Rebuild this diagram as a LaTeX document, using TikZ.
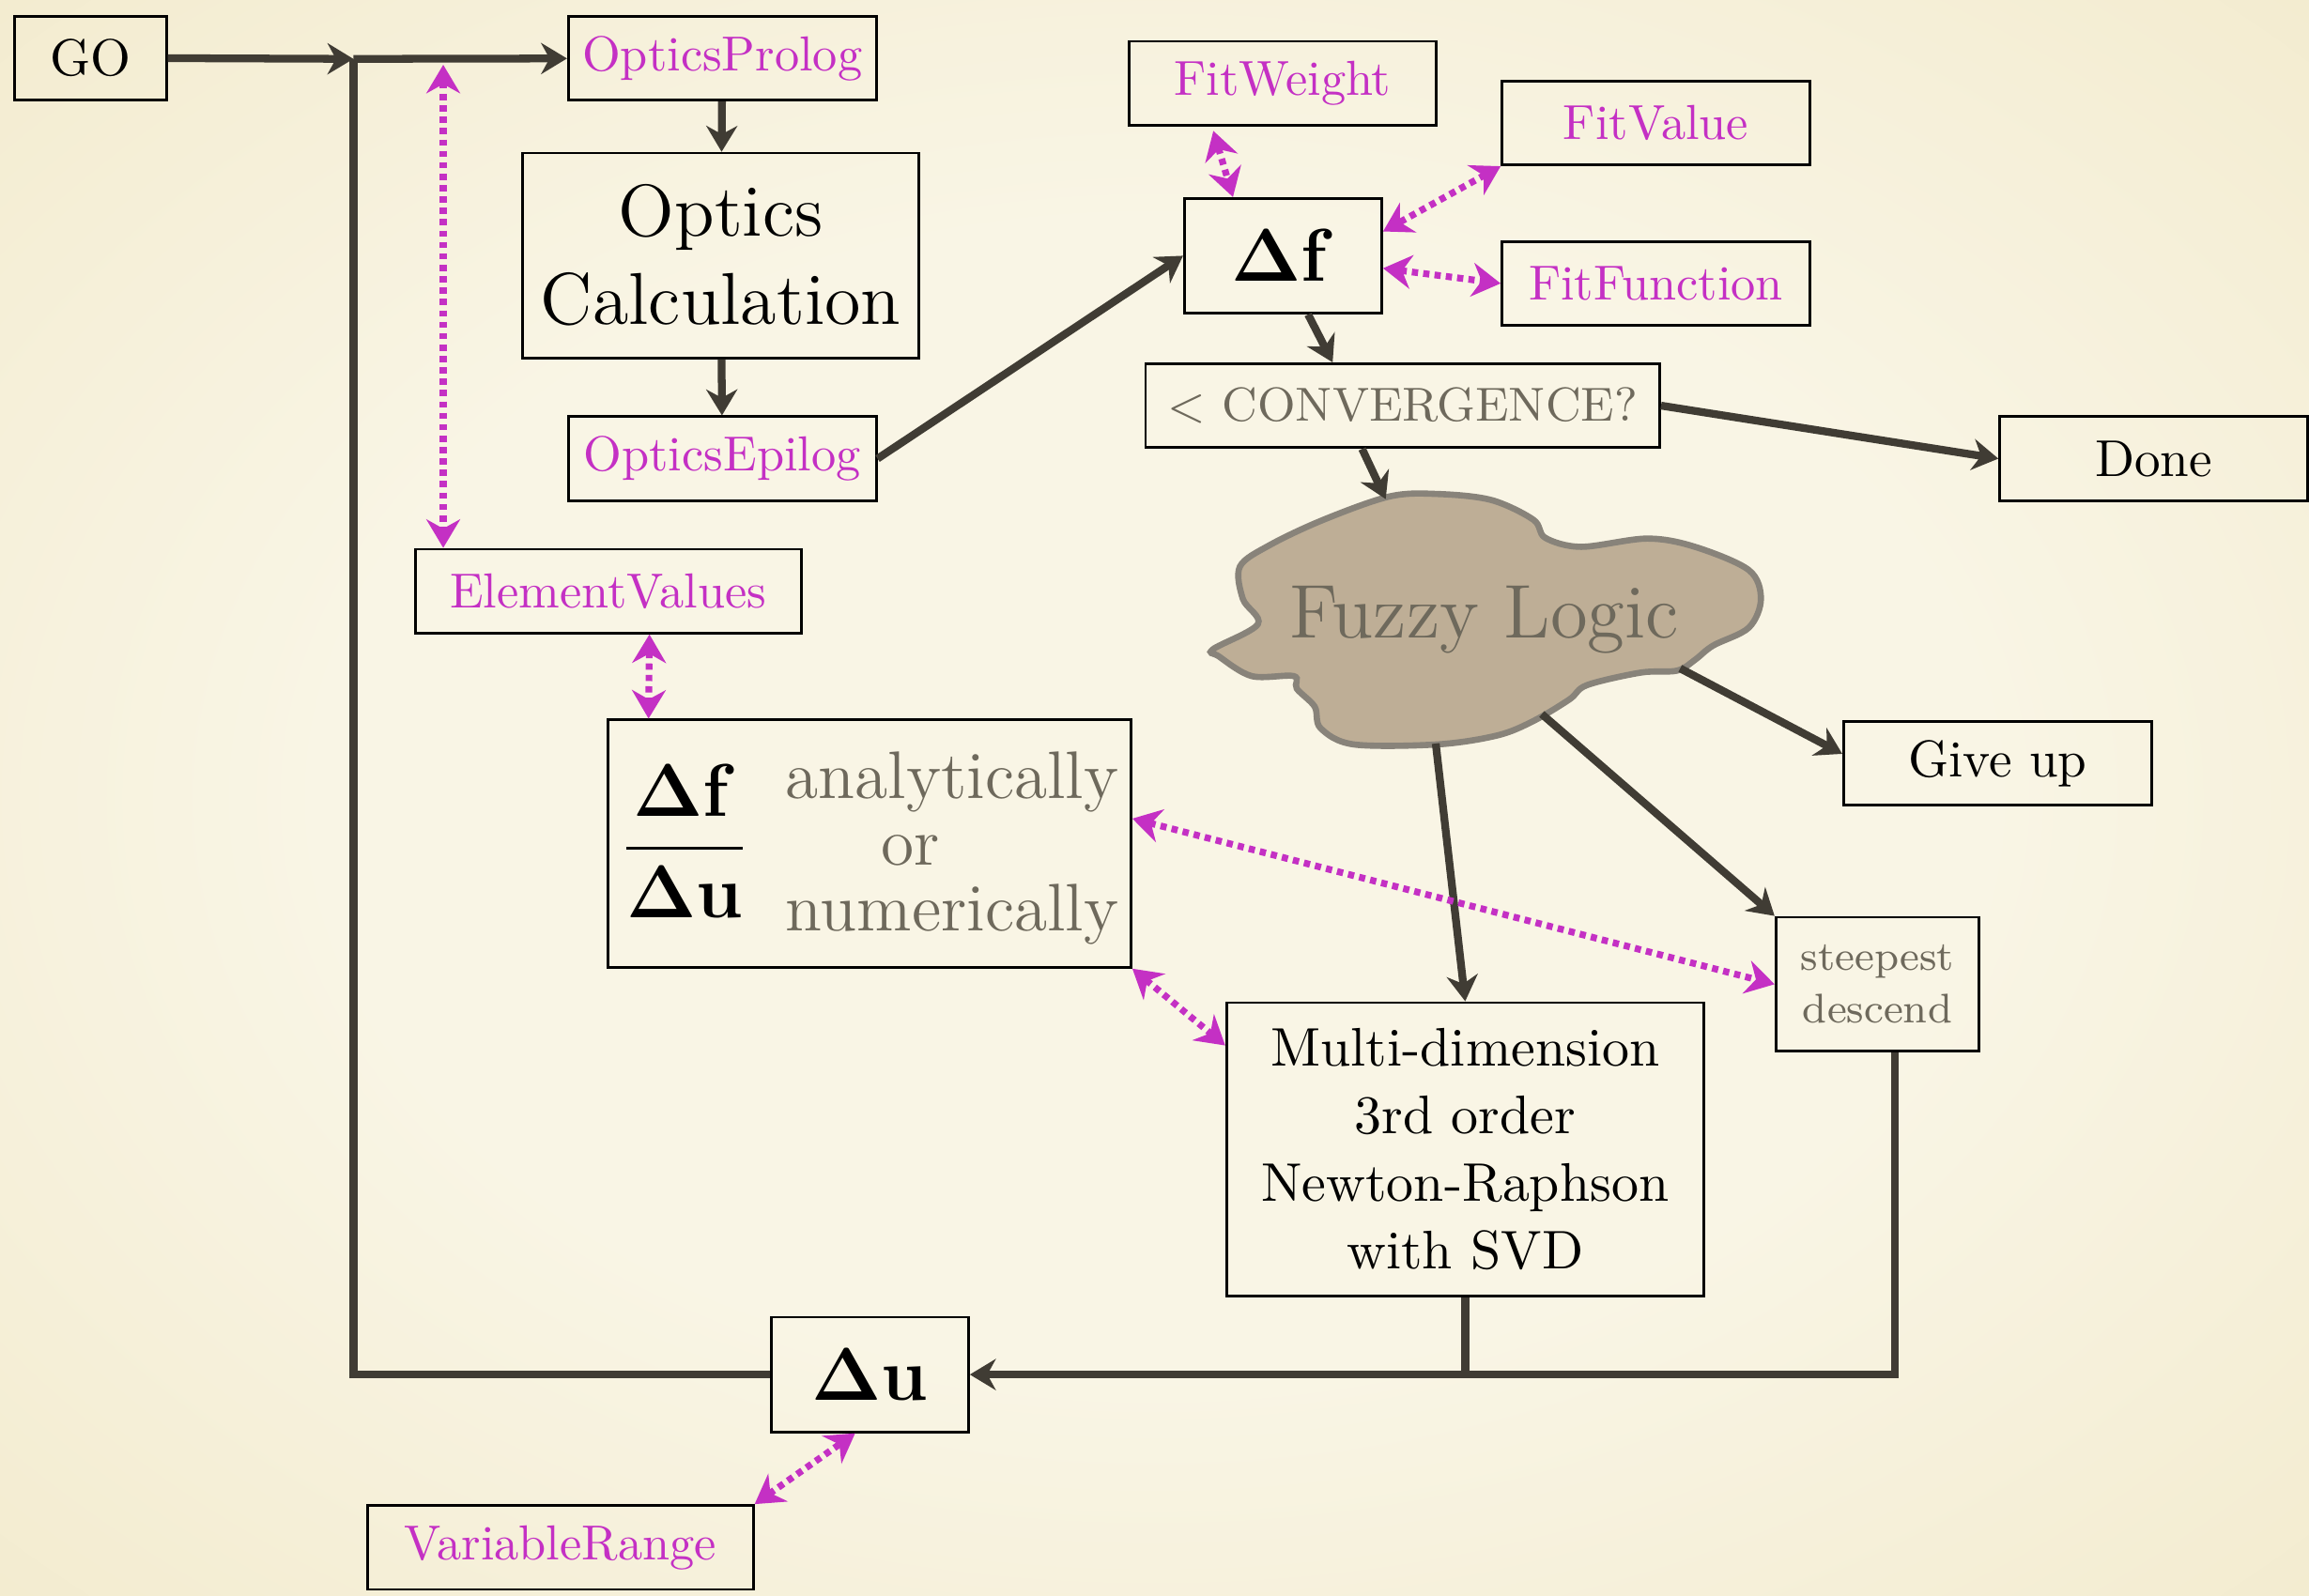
\documentclass[tikz,border=0pt]{standalone}
\usetikzlibrary{arrows.meta}
\definecolor{bgin}{RGB}{249,245,229}
\definecolor{bgout}{RGB}{238,228,190}
\definecolor{mag}{RGB}{196,48,196}
\definecolor{ink}{RGB}{64,60,52}
\definecolor{greytxt}{RGB}{110,105,92}
\definecolor{cloudfill}{RGB}{190,174,150}
\definecolor{cloudline}{RGB}{136,131,122}
\pgfdeclareradialshading{paper}{\pgfpoint{0bp}{0bp}}{color(0bp)=(bgin); color(18bp)=(bgin); color(50bp)=(bgout); color(72bp)=(bgout)}
\begin{document}
\begin{tikzpicture}[x=0.01cm,y=-0.01cm,
  box/.style={draw=black,line width=0.5pt,inner sep=0pt,align=center,font=\fontsize{10}{12}\selectfont},
  lbl/.style={box,text=mag,font=\fontsize{9.5}{11}\selectfont,minimum width=2.09cm,minimum height=0.57cm},
  wire/.style={draw=ink,line width=1.5pt},
  flow/.style={wire,-{Stealth[length=5pt,width=6pt]}},
  link/.style={draw=mag,line width=1.3pt,dash pattern=on 1.2pt off 1pt,{Stealth[length=5.5pt,width=6.5pt]}-{Stealth[length=5.5pt,width=6.5pt]}}]
\useasboundingbox (0,0) rectangle (1568,1084);
\shade[shading=paper] (0,0) rectangle (1568,1084);

\node[box,minimum width=1.03cm,minimum height=0.57cm] (go) at (61.5,39.5) {GO};
\node[lbl] (prolog) at (490.5,39.5) {OpticsProlog};
\node[box,minimum width=2.69cm,minimum height=1.39cm,font=\fontsize{14.2}{17}\selectfont] (calc) at (489.5,173.5) {Optics\\Calculation};
\node[lbl] (epilog) at (490.5,311.5) {OpticsEpilog};
\node[lbl,minimum width=2.62cm] (elem) at (413,401.5) {ElementValues};
\node[lbl,minimum width=2.08cm] (fweight) at (871,56.5) {FitWeight};
\node[lbl] (fvalue) at (1124.5,83.5) {FitValue};
\node[box,minimum width=1.34cm,minimum height=0.78cm,font=\fontsize{14}{16}\selectfont] (df) at (871.3,173.7) {$\mathbf{\Delta f}$};
\node[lbl] (ffunc) at (1124.5,192.5) {FitFunction};
\node[box,text=greytxt,minimum width=3.49cm,minimum height=0.57cm,font=\fontsize{9.2}{11}\selectfont] (conv) at (952.5,275.5) {\textless{} CONVERGENCE?};
\node[box,minimum width=2.09cm,minimum height=0.57cm] (done) at (1462.5,311.5) {Done};
\node[box,minimum width=2.09cm,minimum height=0.57cm] (giveup) at (1356.5,518.5) {Give up};
\node[box,minimum width=3.55cm,minimum height=1.68cm] (dfdu) at (590.5,573) {\raisebox{0pt}[\dimexpr\height+3pt\relax][\depth]{{\fontsize{14}{16}\selectfont$\displaystyle\frac{\mathbf{\Delta f}}{\mathbf{\Delta u}}$}\hspace{7pt}{\color{greytxt}\fontsize{13}{12.8}\selectfont\begin{tabular}{@{}c@{}}analytically\\or\hspace{16pt}\mbox{}\\numerically\end{tabular}}}};
\node[box,text=greytxt,minimum width=1.38cm,minimum height=0.91cm,font=\fontsize{8}{10.2}\selectfont] (steep) at (1275,668.5) {steepest\\descend};
\node[box,minimum width=3.24cm,minimum height=1.99cm,font=\fontsize{10.5}{13}\selectfont] (multi) at (995,780.5) {Multi-dimension\\3rd order\\Newton-Raphson\\with SVD};
\node[box,minimum width=1.34cm,minimum height=0.78cm,font=\fontsize{14}{16}\selectfont] (du) at (590.7,933.6) {$\mathbf{\Delta u}$};
\node[lbl,minimum width=2.62cm] (vrange) at (380.5,1051) {VariableRange};

\draw[fill=cloudfill,draw=cloudline,line width=1.2pt] plot[smooth cycle,tension=0.55] coordinates {(943.6,337.2) (976,335.5) (1012.7,339.6) (1041.3,353) (1049.4,365.3) (1073.8,371.4) (1118.5,365.8) (1151,371.4) (1187.6,387.2) (1195.8,406.8) (1187.6,426.3) (1163.3,438.5) (1151,448.2) (1138.8,455.5) (1114.4,456.8) (1077.8,465.3) (1065.7,475.1) (1041.3,489.7) (1016.8,499.5) (976.2,505.6) (919.2,505.6) (896.8,494.6) (892.8,480) (880.6,467.7) (878.6,459.2) (850,459.2) (827.7,445.8) (823.7,441) (854.2,423.9) (844,406.8) (842,384.8) (862.3,370.2) (898.8,353)};
\node[text=greytxt,font=\fontsize{14.7}{16}\selectfont] (fuzzy) at (1008,421) {Fuzzy Logic};
\coordinate (ctop) at (941,339);
\coordinate (cgu) at (1141,454);
\coordinate (cst) at (1047,485);
\coordinate (cmu) at (975,505);
\coordinate (j1) at (240,40);
\coordinate (jm) at (301,44);

\draw[flow] (go.east) -- (j1);
\draw[flow] (j1) -- (prolog);
\draw[wire] (du.west) -| (j1);
\draw[link] (jm) -- (elem.north -| jm);
\draw[flow] (prolog) -- (calc);
\draw[flow] (calc) -- (epilog);
\draw[flow] (epilog.east) -- (df.west);
\draw[link] ([xshift=-0.47cm,yshift=-0.03cm]fweight.south) -- ([xshift=-0.34cm]df.north);
\draw[link] (fvalue.south west) -- ([yshift=0.165cm]df.east);
\draw[link] ([yshift=-0.085cm]df.east) -- (ffunc.west);
\draw[flow] ([xshift=0.17cm]df.south) -- ([xshift=-0.475cm]conv.north);
\draw[flow] ([xshift=-0.275cm]conv.south) -- (ctop);
\draw[flow] (conv.east) -- (done.west);
\draw[flow] (cgu) -- ([yshift=0.065cm]giveup.west);
\draw[flow] (cst) -- (steep.north west);
\draw[flow] (cmu) -- (multi.north);
\draw[link] ([xshift=0.28cm]elem.south) -- ([xshift=-1.5cm]dfdu.north);
\draw[link] ([yshift=0.17cm]dfdu.east) -- (steep.west);
\draw[link] (dfdu.south east) -- ([yshift=-0.3cm]multi.north west);
\draw[link] (vrange.north east) -- ([xshift=-0.1cm]du.south);
\draw[wire] (multi.south) -- (multi.south |- du.east);
\draw[flow] ([xshift=0.12cm]steep.south) |- (du.east);
\end{tikzpicture}
\end{document}
